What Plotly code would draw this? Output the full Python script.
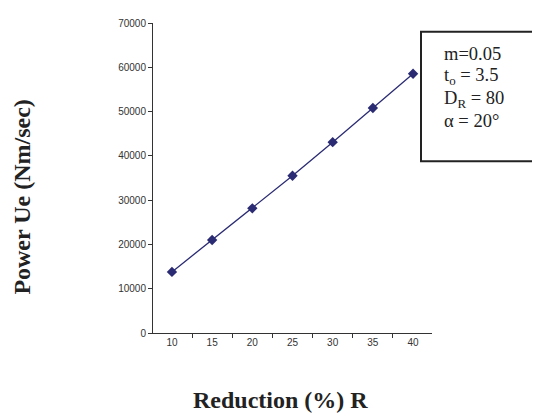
import plotly.graph_objects as go

reduction = ["10", "15", "20", "25", "30", "35", "40"]
power = [13800, 21000, 28150, 35500, 43100, 50800, 58550]
y_ticks = [0, 10000, 20000, 30000, 40000, 50000, 60000, 70000]
box_lines = ["m=0.05", "t<sub>o</sub> = 3.5", "D<sub>R</sub> = 80", "α = 20°"]

OFF = 8  # page body margin
W, H = 540, 416
L, R, T, B = 145, 116, 9, 91
pw, ph = W - L - R, H - T - B

def px_x(p):  # screen px -> paper x
    return (p - OFF - L) / pw

def px_y(p):  # screen px -> paper y
    return (H - B - (p - OFF)) / ph

fig = go.Figure()
fig.add_trace(go.Scatter(
    x=reduction, y=power, mode="lines+markers",
    line=dict(color="#2B2B73", width=1.3),
    marker=dict(symbol="diamond", size=8, color="#2B2B73"),
    showlegend=False,
))

fig.add_shape(type="rect", xref="paper", yref="paper",
              x0=px_x(421), x1=px_x(536), y0=px_y(158), y1=px_y(26),
              line=dict(color="#222222", width=2), fillcolor="rgba(0,0,0,0)")

centers = [49, 72, 95, 117]
for txt, cy in zip(box_lines, centers):
    fig.add_annotation(
        xref="paper", yref="paper", x=px_x(442), y=px_y(cy),
        xanchor="left", yanchor="middle", align="left", showarrow=False,
        text=txt,
        font=dict(family="Liberation Serif", size=18.5, color="#222222"),
    )

fig.add_annotation(
    xref="paper", yref="paper", x=px_x(22), y=px_y(195),
    xanchor="center", yanchor="middle",
    textangle=-90, showarrow=False,
    text="<b>Power Ue (Nm/sec)</b>",
    font=dict(family="Liberation Serif", size=24, color="#222222"),
)
fig.add_annotation(
    xref="paper", yref="paper", x=px_x(280), y=px_y(401),
    xanchor="center", yanchor="middle",
    showarrow=False,
    text="<b>Reduction (%) R</b>",
    font=dict(family="Liberation Serif", size=24, color="#222222"),
)

fig.update_xaxes(
    type="category", tickson="boundaries", ticks="outside", ticklen=4,
    tickcolor="#333333", showline=True, linecolor="#333333", linewidth=1,
    showgrid=False, zeroline=False,
    tickfont=dict(family="Liberation Sans", size=10, color="#333333"),
)
fig.update_yaxes(
    range=[0, 70000], tickvals=y_ticks, ticktext=[str(v) for v in y_ticks],
    ticks="outside", ticklen=4, tickcolor="#333333",
    showline=True, linecolor="#333333", linewidth=1,
    showgrid=False, zeroline=False,
    tickfont=dict(family="Liberation Sans", size=10, color="#333333"),
)
fig.update_layout(
    width=W, height=H, margin=dict(l=L, r=R, t=T, b=B),
    paper_bgcolor="white", plot_bgcolor="white",
)
fig.write_html("out.html")
